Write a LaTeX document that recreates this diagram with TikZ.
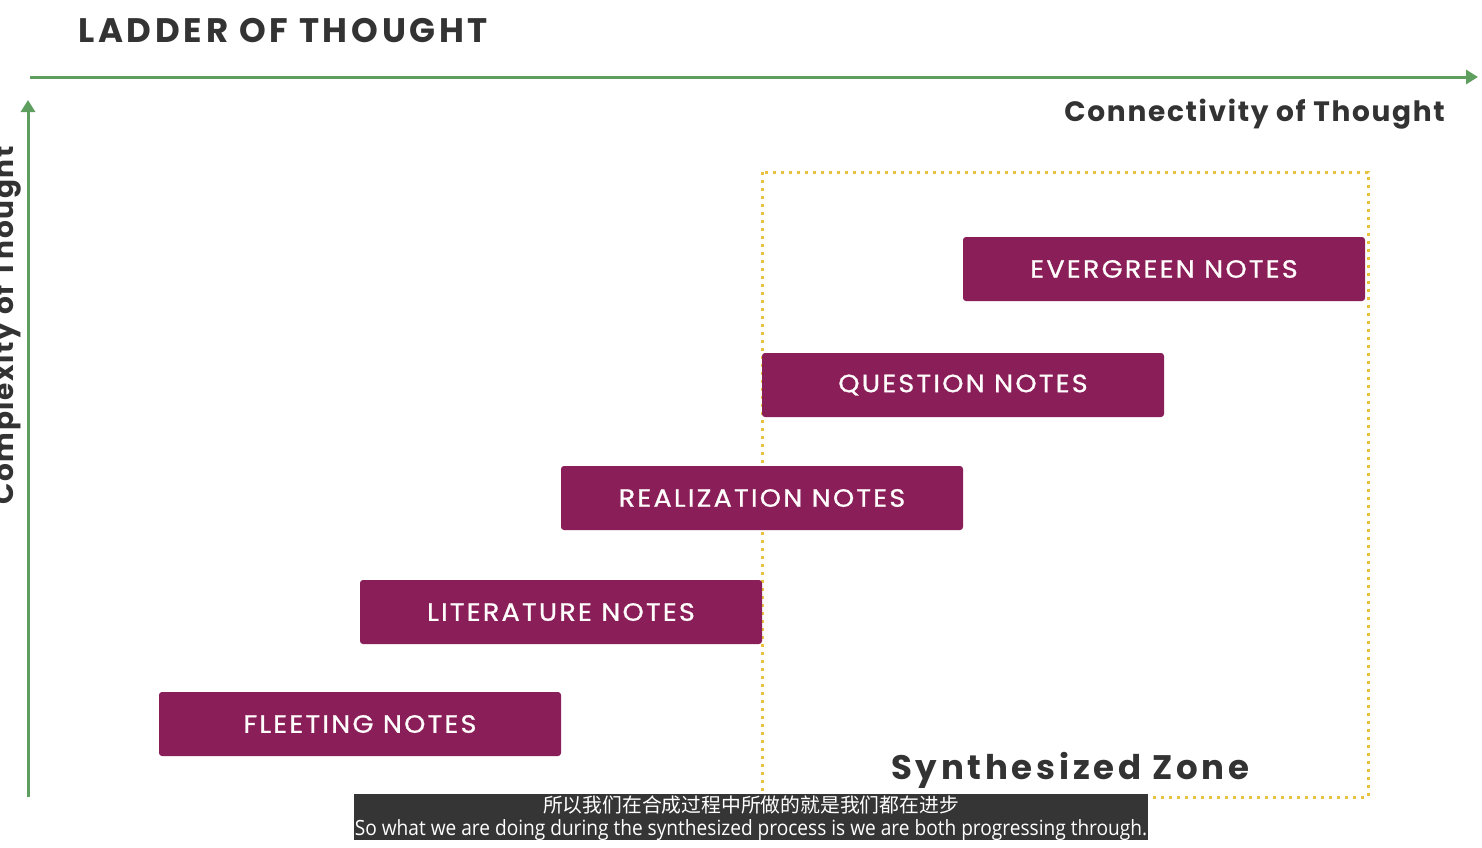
\documentclass[tikz,border=0pt]{standalone}
\usepackage{fontspec}
\setmainfont{Poppins}
\newfontfamily\titlefont[LetterSpace=11]{Poppins}
\newfontfamily\axisfont[LetterSpace=6]{Poppins}
\newfontfamily\notefont[LetterSpace=9,FakeStretch=1.08,FakeBold=1]{Poppins}
\newfontfamily\cjk{Noto Sans CJK SC}
\newfontfamily\capfont[FakeStretch=0.91]{Open Sans}
\usetikzlibrary{arrows.meta,positioning}
\definecolor{notepurple}{HTML}{8A1E58}
\definecolor{axisgreen}{HTML}{5E9E5E}
\definecolor{zonegold}{HTML}{E8C23E}
\definecolor{inkgray}{HTML}{333333}
\definecolor{capbg}{HTML}{353535}
\tikzset{
  notebox/.style={fill=notepurple, rounded corners=3pt, minimum width=402pt,
    minimum height=64pt, inner sep=0pt, text=white!96!pink,
    font=\notefont\fontsize{25}{25}\selectfont},
  axis/.style={axisgreen, line width=3pt, -{Triangle[length=12pt,width=14pt]}},
  zone/.style={zonegold, line width=3pt, dash pattern=on 3pt off 5pt},
  label/.style={inner sep=0pt, text=inkgray, font=\axisfont\bfseries\fontsize{28}{28}\selectfont}
}
\begin{document}
\begin{tikzpicture}[x=1pt,y=-1pt]
  \useasboundingbox[fill=white] (0,0) rectangle (1482,847);
  \clip (0,0) rectangle (1482,847);
  % Titel
  \node[label, anchor=base west, font=\titlefont\bfseries\fontsize{34}{34}\selectfont] (title) at (78,42) {LADDER OF THOUGHT};
  % Akser
  \coordinate (xstart) at (30,77);
  \coordinate (xend) at (1478,77);
  \coordinate (ystart) at (28,797);
  \coordinate (yend) at (28,100);
  \draw[axis] (xstart) -- (xend);
  \draw[axis] (ystart) -- (yend);
  \node[label, anchor=base east] (xlabel) at (1445,121) {Connectivity of Thought};
  \node[label, anchor=base west, rotate=90] (ylabel) at (13,505) {Complexity of Thought};
  % Sone
  \draw[zone] (762,172) rectangle (1368,797);
  \node[label, anchor=base west, font=\titlefont\bfseries\fontsize{34}{34}\selectfont] (zonelabel) at (891,779) {Synthesized Zone};
  % Notater
  \node[notebox] (fleeting) at (360,724) {FLEETING NOTES};
  \node[notebox] (literature) at (561,612) {LITERATURE NOTES};
  \node[notebox] (realization) at (762,498) {REALIZATION NOTES};
  \node[notebox] (question) at (963,385) {QUESTION NOTES};
  \node[notebox] (evergreen) at (1164,269) {EVERGREEN NOTES};
  % Undertekst
  \node[fill=capbg, minimum width=794pt, minimum height=46pt, inner sep=0pt] (caption) at (751,817) {};
  \node[text=white, inner sep=0pt, anchor=base, font=\cjk\fontsize{19.8}{19.8}\selectfont] (capzh) at (751,812) {所以我们在合成过程中所做的就是我们都在进步};
  \node[text=white, inner sep=0pt, anchor=base, font=\capfont\fontsize{21}{21}\selectfont] (capen) at (751,835) {So what we are doing during the synthesized process is we are both progressing through.};
\end{tikzpicture}
\end{document}
